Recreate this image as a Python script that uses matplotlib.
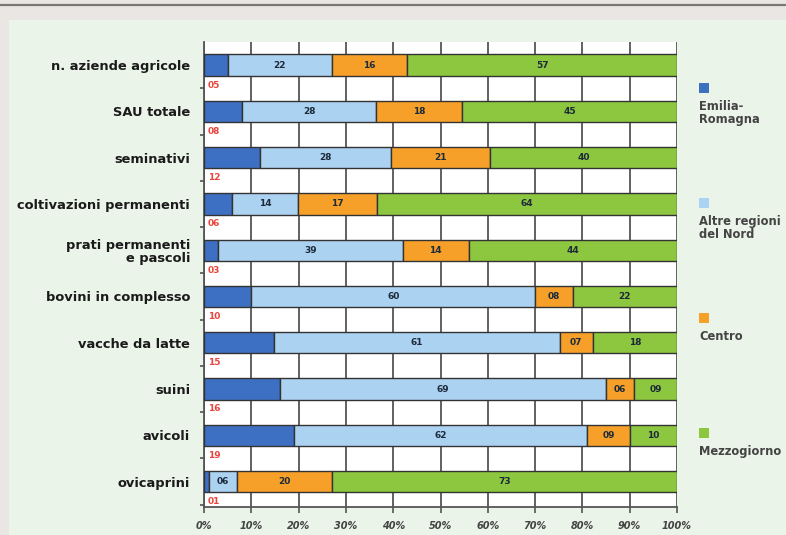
import numpy as np
import matplotlib
matplotlib.use("Agg")
import matplotlib.pyplot as plt
from matplotlib.patches import Rectangle

# =========================================
# Data (percent shares)
# =========================================
categories = ["n. aziende agricole", "SAU totale", "seminativi",
              "coltivazioni permanenti", "prati permanenti\ne pascoli",
              "bovini in complesso", "vacche da latte", "suini",
              "avicoli", "ovicaprini"]
emilia = [5, 8, 12, 6, 3, 10, 15, 16, 19, 1]
nord = [22, 28, 28, 14, 39, 60, 61, 69, 62, 6]
centro = [16, 18, 21, 17, 14, 8, 7, 6, 9, 20]
sud = [57, 45, 40, 64, 44, 22, 18, 9, 10, 73]
series_names = ["Emilia-\nRomagna", "Altre regioni\ndel Nord", "Centro", "Mezzogiorno"]
tick_labels = ["0%", "10%", "20%", "30%", "40%", "50%", "60%", "70%", "80%", "90%", "100%"]

colors = ["#3d6fc2", "#acd2f1", "#f6a02a", "#8dc63f"]
dark = "#333333"

# =========================================
# Figure / background
# =========================================
fig = plt.figure(figsize=(7.86, 5.35), dpi=100)
fig.patch.set_facecolor("#e9e6e3")
fig.add_artist(Rectangle((9/786, 0), 1, 1 - 20/535, transform=fig.transFigure,
                         facecolor="#ebf4e9", edgecolor="none", zorder=0))
fig.add_artist(plt.Line2D([0, 1], [1 - 5/535, 1 - 5/535], transform=fig.transFigure,
                          color="#7a7775", lw=1.6))

ax = fig.add_axes([204/786, 1 - 507/535, (677 - 204)/786, (507 - 42)/535])
ax.set_facecolor("white")

y = np.arange(len(categories))
h = 0.46
all_series = np.array([emilia, nord, centro, sud], dtype=float)
# bars are drawn as shares of each row total (100% stacked)
shares = all_series / all_series.sum(axis=0) * 100
left = np.zeros(len(categories))
for k in range(len(all_series)):
    widths = shares[k]
    ax.barh(y, widths, left=left, height=h, color=colors[k], edgecolor=dark,
            linewidth=1.0, zorder=3)
    if k > 0:
        for i, v in enumerate(all_series[k]):
            ax.text(left[i] + widths[i] / 2, y[i], f"{int(v):02d}",
                    ha="center", va="center", fontsize=6.5, fontweight="bold",
                    color="#1c2a3a", zorder=4)
    left = left + widths

# Emilia-Romagna values written in red under the bars
for i, v in enumerate(emilia):
    ax.text(0.8, y[i] + 0.43, f"{v:02d}", ha="left", va="center", fontsize=6.5,
            fontweight="bold", color="#e8463c", zorder=4)

ax.set_xlim(0, 100)
ax.set_ylim(len(categories) - 0.45, -0.5)
ax.set_xticks(np.arange(0, 101, 10))
ax.set_xticklabels(tick_labels, fontsize=7, fontweight="bold", style="italic", color="#444444")
ax.set_yticks(y)
ax.set_yticklabels(categories, fontsize=9.4, fontweight="bold", color="#1a1a1a",
                   linespacing=1.05)
ax.tick_params(axis="y", length=0, pad=10)
ax.tick_params(axis="x", length=4, width=1.2, color="#555555", pad=6)
ax.set_yticks(y + 0.5, minor=True)
ax.tick_params(axis="y", which="minor", length=3, width=1.2, color="#555555")
ax.grid(axis="x", color="#555555", linewidth=1.3, zorder=1)
ax.set_axisbelow(True)
for s in ["top", "right"]:
    ax.spines[s].set_visible(False)
ax.spines["left"].set_color("#555555")
ax.spines["left"].set_linewidth(1.3)
ax.spines["bottom"].set_color("#555555")
ax.spines["bottom"].set_linewidth(1.3)

# Legend on the right: colored square above each label
legend_y = [88, 203, 318, 433]
for k, name in enumerate(series_names):
    top = 1 - legend_y[k] / 535
    fig.add_artist(Rectangle((699/786, top - 5/535), 10/786, 10/535, transform=fig.transFigure,
                             facecolor=colors[k], edgecolor="none"))
    fig.text(699/786, top - 12/535, name, ha="left", va="top", fontsize=8.3,
             fontweight="bold", color="#444444", linespacing=1.05)

fig.savefig("out.png", dpi=100, facecolor=fig.get_facecolor())
